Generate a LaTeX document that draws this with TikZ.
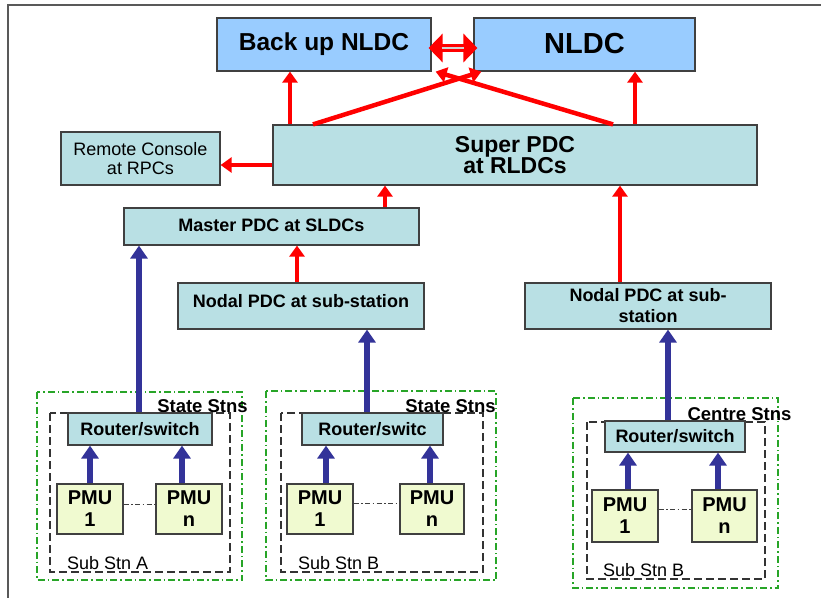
\documentclass[tikz,border=0pt]{standalone}
\usepackage{fontspec}
\setmainfont{Liberation Sans}
\usetikzlibrary{arrows.meta}
\definecolor{boxcyan}{RGB}{185,224,228}
\definecolor{boxblue}{RGB}{153,204,255}
\definecolor{pmuy}{RGB}{240,250,208}
\definecolor{navyb}{RGB}{51,51,153}
\definecolor{grn}{RGB}{40,165,40}
\definecolor{edgec}{RGB}{64,64,64}
\begin{document}
\begin{tikzpicture}[x=1pt,y=-1pt,
  box/.style={draw=edgec, line width=1.2pt, inner sep=0pt, align=center, fill=boxcyan,
    font=\bfseries\fontsize{18}{21}\selectfont},
  topbox/.style={box, fill=boxblue},
  pmubox/.style={box, fill=pmuy, minimum width=66pt, minimum height=50pt,
    font=\bfseries\fontsize{20}{22}\selectfont},
  redarrow/.style={draw=red, line width=4.5pt, -{Triangle[width=15pt,length=11pt]}},
  bluearrow/.style={draw=navyb, line width=6pt, -{Triangle[width=17pt,length=13pt]}},
  grpouter/.style={draw=grn, line width=1.3pt, dash pattern=on 7pt off 3pt on 1.5pt off 3pt},
  grpinner/.style={draw=black!80, line width=1.3pt, dash pattern=on 8pt off 4pt},
  pmulink/.style={draw=black!75, line width=1pt, dash pattern=on 5pt off 2.5pt on 1.5pt off 2.5pt},
  grplabel/.style={inner sep=0pt, font=\bfseries\fontsize{18.5}{21}\selectfont},
  sublabel/.style={inner sep=0pt, anchor=west, font=\fontsize{18}{21}\selectfont}
]
\useasboundingbox (0,0) rectangle (821,598);
\fill[white] (0,0) rectangle (821,598);
\draw[gray!70!black, line width=1.5pt] (821,5) -- (8,5) -- (8,598);

% top boxes
\node[topbox, minimum width=214pt, minimum height=53pt, font=\bfseries\fontsize{24.5}{26}\selectfont]
  (backup) at (324,44.5) {\raisebox{6pt}{Back up NLDC}};
\node[topbox, minimum width=221pt, minimum height=53pt, font=\bfseries\fontsize{29}{31}\selectfont]
  (nldc) at (584.5,44.5) {\raisebox{3pt}{NLDC}};

\node[box, minimum width=484pt, minimum height=60pt, font=\bfseries\fontsize{23}{20}\selectfont]
  (super) at (515,155) {Super PDC\\at RLDCs};
\node[box, minimum width=159pt, minimum height=53pt, font=\fontsize{18}{19}\selectfont]
  (remote) at (140.5,158.5) {Remote Console\\at RPCs};
\node[box, minimum width=295pt, minimum height=37pt] (master) at (271.5,226.5) {\raisebox{2pt}{Master PDC at SLDCs}};
\node[box, minimum width=246pt, minimum height=46pt] (nodalA) at (301,306) {\raisebox{10pt}{Nodal PDC at sub-station}};
\node[box, minimum width=246pt, minimum height=46pt] (nodalB) at (648,306) {Nodal PDC at sub-\\station};

% groups
\draw[grpouter] (37,392) rectangle (242,580);
\draw[grpinner] (50,413) rectangle (230,572);
\draw[grpouter] (266,391) rectangle (496,580);
\draw[grpinner] (281,413) rectangle (483,572);
\draw[grpouter] (573,398) rectangle (778,588);
\draw[grpinner] (587,422) rectangle (765,579);

\node[grplabel] (lsA) at (202.5,406) {State Stns};
\node[grplabel] (lsB) at (450.5,406) {State Stns};
\node[grplabel] (lsC) at (739.5,414) {Centre Stns};
\node[sublabel] (subA) at (67,563) {Sub Stn A};
\node[sublabel] (subB) at (298,563) {Sub Stn B};
\node[sublabel] (subC) at (603,570) {Sub Stn B};

\node[box, minimum width=144pt, minimum height=32pt] (routerA) at (140,429) {Router/switch};
\node[box, minimum width=141pt, minimum height=32pt] (routerB) at (372.5,429) {Router/switc};
\node[box, minimum width=140pt, minimum height=31pt] (routerC) at (675,436.5) {Router/switch};

\node[pmubox] (pmuA1) at (90,509) {PMU\\1};
\node[pmubox] (pmuAn) at (189,509) {PMU\\n};
\node[pmubox] (pmuB1) at (320,509) {PMU\\1};
\node[pmubox, minimum width=64pt] (pmuBn) at (432,509) {PMU\\n};
\node[pmubox, minimum height=52pt] (pmuC1) at (625,516) {PMU\\1};
\node[pmubox, minimum height=52pt, minimum width=65pt] (pmuCn) at (724.5,516) {PMU\\n};

% PMU links
\draw[pmulink] ([yshift=5pt]pmuA1.east) -- ([yshift=5pt]pmuA1.east -| pmuAn.west);
\draw[pmulink] ([yshift=6pt]pmuB1.east) -- ([yshift=6pt]pmuB1.east -| pmuBn.west);
\draw[pmulink] ([yshift=7pt]pmuC1.east) -- ([yshift=7pt]pmuC1.east -| pmuCn.west);

% blue arrows
\draw[bluearrow] (pmuA1.north) -- (pmuA1.north |- routerA.south);
\draw[bluearrow] ([xshift=-7pt]pmuAn.north) -- ([xshift=-7pt]pmuAn.north |- routerA.south);
\draw[bluearrow] ([xshift=6pt]pmuB1.north) -- ([xshift=6pt]pmuB1.north |- routerB.south);
\draw[bluearrow] ([xshift=-2pt]pmuBn.north) -- ([xshift=-2pt]pmuBn.north |- routerB.south);
\draw[bluearrow] ([xshift=3pt]pmuC1.north) -- ([xshift=3pt]pmuC1.north |- routerC.south);
\draw[bluearrow] ([xshift=-6.5pt]pmuCn.north) -- ([xshift=-6.5pt]pmuCn.north |- routerC.south);
\draw[bluearrow] ([xshift=-1pt]routerA.north) -- ([xshift=-1pt]routerA.north |- master.south);
\draw[bluearrow] ([xshift=-5.5pt]routerB.north) -- ([xshift=-5.5pt]routerB.north |- nodalA.south);
\draw[bluearrow] ([xshift=-7pt]routerC.north) -- ([xshift=-7pt]routerC.north |- nodalB.south);

% red arrows
\draw[redarrow] ([xshift=-4pt]nodalA.north) -- ([xshift=-4pt]nodalA.north |- master.south);
\draw[redarrow] ([xshift=113.5pt]master.north) -- ([xshift=113.5pt]master.north |- super.south);
\draw[redarrow] ([xshift=-28pt]nodalB.north) -- ([xshift=-28pt]nodalB.north |- super.south);
\draw[redarrow] ([yshift=-10pt]super.west) -- ([yshift=-10pt]super.west -| remote.east);
\draw[redarrow] ([xshift=-225pt]super.north) -- ([xshift=-225pt]super.north |- backup.south);
\draw[redarrow] ([xshift=120pt]super.north) -- ([xshift=120pt]super.north |- nldc.south);
\draw[redarrow] ([xshift=-202pt]super.north) -- ([xshift=8pt]nldc.south west);
\draw[redarrow] ([xshift=98pt]super.north) -- ([xshift=4pt]backup.south east);

% double arrow
\draw[red, line width=8pt, {Triangle[width=28pt,length=14pt]}-{Triangle[width=28pt,length=14pt]}]
  ([yshift=-3.5pt,xshift=-3pt]backup.east) -- ([yshift=-3.5pt,xshift=4pt]nldc.west);
\draw[gray!35, line width=2.5pt] ([yshift=-3.5pt,xshift=10pt]backup.east) -- ([yshift=-3.5pt,xshift=-9pt]nldc.west);
\end{tikzpicture}
\end{document}
